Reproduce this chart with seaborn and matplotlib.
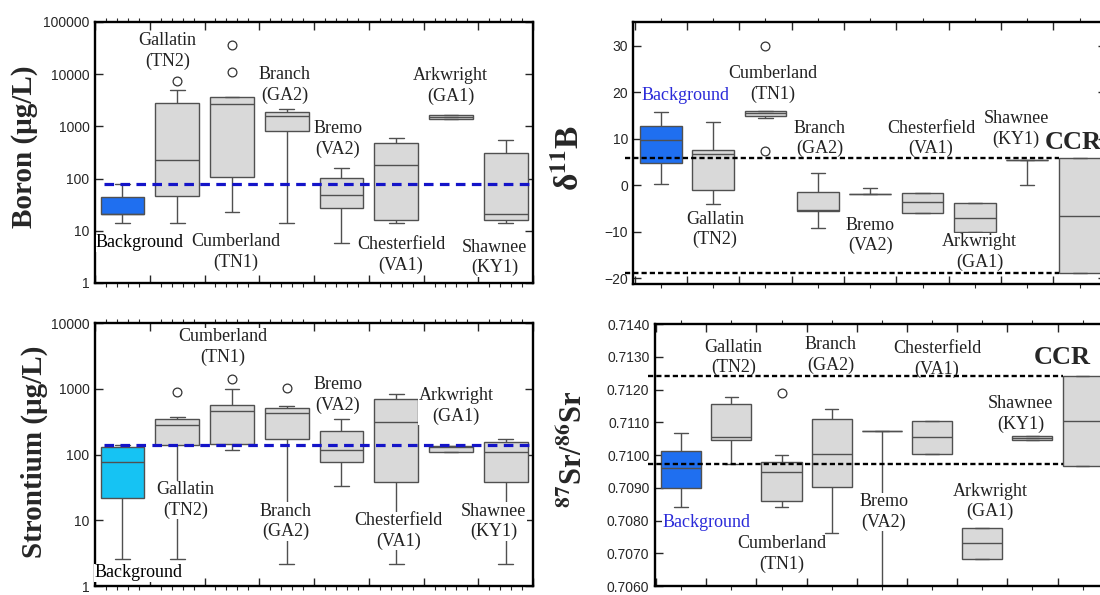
import numpy as np
import pandas as pd
import seaborn as sns
import matplotlib.pyplot as plt
import matplotlib.ticker as mtick

# sites, left panels have no CCR box
sites = ['Background', 'Gallatin', 'Cumberland', 'Branch', 'Bremo', 'Chesterfield', 'Arkwright', 'Shawnee']
sites_ccr = sites + ['CCR']
codes = ['', '(TN2)', '(TN1)', '(GA2)', '(VA2)', '(VA1)', '(GA1)', '(KY1)']

# boron, ug/L : whisker low, q1, median, q3, whisker high
b_lo = [14.3, 14.3, 22.9, 14.3, 5.9, 14.3, 1385, 14.3]
b_q1 = [20.6, 47, 106, 814, 26.9, 16, 1385, 16]
b_med = [20.6, 222, 2730, 1560, 48.5, 178, 1510, 20.6]
b_q3 = [44, 2800, 3720, 1910, 103, 471, 1650, 303]
b_hi = [80, 5070, 3720, 2120, 156, 597, 1650, 554]
b_out_site = ['Gallatin', 'Cumberland', 'Cumberland']
b_out_val = [7550, 35500, 10900]
b_background = 80

# delta 11B
d_lo = [0.2, -4.1, 14.5, -9.1, -1.9, -5.9, -10.0, 0.0, -18.8]
d_q1 = [4.7, -1.1, 15.0, -5.6, -1.9, -5.9, -10.0, 5.5, -18.8]
d_med = [9.7, 6.8, 15.5, -5.2, -1.9, -3.6, -7.0, 5.5, -6.6]
d_q3 = [12.8, 7.6, 15.9, -1.5, -1.9, -1.6, -3.9, 5.5, 5.8]
d_hi = [15.7, 13.6, 15.9, 2.6, -0.6, -1.6, -3.9, 5.5, 5.8]
d_out_site = ['Cumberland', 'Cumberland']
d_out_val = [30, 7.3]
d_ccr_range = [5.8, -18.8]

# strontium, ug/L
s_lo = [2.6, 2.6, 116, 2.2, 33, 2.2, 108, 2.2]
s_q1 = [22, 142, 147, 174, 76.6, 38, 108, 38]
s_med = [78, 277, 462, 421, 119, 315, 132, 110]
s_q3 = [128, 350, 576, 507, 230, 702, 137, 153]
s_hi = [138, 375, 1000, 538, 350, 835, 137, 175]
s_out_site = ['Gallatin', 'Cumberland', 'Branch']
s_out_val = [906, 1408, 1030]
s_background = 142

# 87Sr/86Sr
r_lo = [0.70840, 0.70973, 0.70841, 0.70763, 0.70500, 0.71004, 0.70682, 0.71046, 0.70965]
r_q1 = [0.70900, 0.71045, 0.70859, 0.70902, 0.71074, 0.71004, 0.70682, 0.71046, 0.70965]
r_med = [0.70961, 0.71055, 0.70948, 0.71004, 0.71074, 0.71055, 0.70730, 0.71052, 0.71104]
r_q3 = [0.71012, 0.71156, 0.70980, 0.71109, 0.71074, 0.71103, 0.70778, 0.71057, 0.71241]
r_hi = [0.71067, 0.71176, 0.71001, 0.71142, 0.71074, 0.71103, 0.70778, 0.71057, 0.71241]
r_out_site = ['Cumberland']
r_out_val = [0.71189]
r_ccr_range = [0.71240, 0.70972]

sns.set_style('ticks')
plt.rcParams['font.family'] = ['Liberation Sans', 'DejaVu Sans']
plt.rcParams['mathtext.fontset'] = 'stix'
SERIF = ['Liberation Serif', 'DejaVu Serif']
GRAY = '#d9d9d9'
EDGE = '#505050'
BLUE_TXT = '#2b2bd9'

fig = plt.figure(figsize=(11, 5.95), dpi=100)
ax_b = fig.add_axes([0.0864, 0.5244, 0.3982, 0.4387])
ax_d = fig.add_axes([0.5759, 0.5227, 0.4294, 0.4403])
ax_s = fig.add_axes([0.0864, 0.0151, 0.3982, 0.4420])
ax_r = fig.add_axes([0.5955, 0.0151, 0.4115, 0.4403])


def draw_boxes(ax, names, lo, q1, med, q3, hi, bg_color, log=False):
    rows = [(n, v) for i, n in enumerate(names) for v in (lo[i], q1[i], med[i], q3[i], hi[i])]
    df = pd.DataFrame(rows, columns=['site', 'value'])
    pal = {n: GRAY for n in names}
    pal['Background'] = bg_color
    sns.boxplot(data=df, x='site', y='value', hue='site', order=names, hue_order=names,
                palette=pal, saturation=1, width=0.8, whis=(0, 100), showfliers=False,
                linecolor=EDGE, linewidth=1.0, legend=False, log_scale=log, ax=ax)
    # whisker caps narrower than the box (medians span the full 0.8)
    for ln in ax.lines:
        xs = np.asarray(ln.get_xdata(), float)
        ys = np.asarray(ln.get_ydata(), float)
        if len(xs) == 2 and ys[0] == ys[1] and 0.05 < abs(xs[1] - xs[0]) < 0.7:
            mid = xs.mean()
            ln.set_xdata([mid - 0.135, mid + 0.135])


def draw_fliers(ax, names, out_site, out_val):
    pos = [names.index(s) for s in out_site]
    ax.scatter(pos, out_val, s=40, facecolors='white', edgecolors='#333333',
               linewidths=0.9, zorder=4)


def style_axes(ax, n_slots, xlim, minor):
    ax.set_xlim(*xlim)
    ax.set_xlabel('')
    ax.set_ylabel('')
    ax.xaxis.set_major_locator(mtick.FixedLocator(np.arange(-0.5, n_slots, 1.0)))
    ax.xaxis.set_minor_locator(mtick.FixedLocator(minor))
    ax.xaxis.set_major_formatter(mtick.NullFormatter())
    ax.tick_params(axis='x', which='major', direction='in', length=6, width=1, top=True, labelbottom=False)
    ax.tick_params(axis='x', which='minor', direction='out', length=3, width=0.8, top=True)
    ax.tick_params(axis='y', which='major', direction='in', length=6, width=1, right=True,
                   labelsize=10, pad=4)
    ax.yaxis.set_minor_locator(mtick.NullLocator())
    for sp in ax.spines.values():
        sp.set_linewidth(1.7)
        sp.set_color('black')


def site_labels(ax, names, xy, bg_color='black'):
    for i, name in enumerate(names):
        txt = name if not codes[i] else name + '\n' + codes[i]
        ax.text(xy[i][0], xy[i][1], txt, ha='center', va='center', fontsize=13,
                family=SERIF, linespacing=1.25, zorder=4,
                color=bg_color if name == 'Background' else '#222222',
                bbox=dict(facecolor='white', edgecolor='none', pad=0.3))


left_minor = [-0.5 + 0.2 * k for k in range(41) if k % 5]
right_minor = list(range(9))

# --- Boron
draw_boxes(ax_b, sites, b_lo, b_q1, b_med, b_q3, b_hi, '#1f6ff0', log=True)
draw_fliers(ax_b, sites, b_out_site, b_out_val)
ax_b.set_ylim(1, 100000)
ax_b.yaxis.set_major_locator(mtick.FixedLocator([1, 10, 100, 1000, 10000, 100000]))
ax_b.yaxis.set_major_formatter(mtick.FuncFormatter(lambda v, p: f'{v:.0f}'))
style_axes(ax_b, 8, (-0.5, 7.5), left_minor)
ax_b.hlines(b_background, -0.33, 7.5, colors='#1414c8', linestyles=(0, (3, 2)), linewidth=2.3, zorder=5)
site_labels(ax_b, sites, [(0.32, 5.9), (0.82, 27700), (2.07, 3.9), (2.96, 6150),
                          (3.93, 570), (5.09, 3.45), (5.99, 6000), (6.8, 3.1)])
ax_b.text(-0.162, 0.52, 'Boron (μg/L)', transform=ax_b.transAxes, rotation=90, ha='center',
          va='center', fontsize=21, fontweight='bold', family=SERIF)

# --- delta 11B
draw_boxes(ax_d, sites_ccr, d_lo, d_q1, d_med, d_q3, d_hi, '#1f6ff0')
draw_fliers(ax_d, sites_ccr, d_out_site, d_out_val)
ax_d.set_ylim(-21.2, 35.1)
ax_d.yaxis.set_major_locator(mtick.FixedLocator([-20, -10, 0, 10, 20, 30]))
style_axes(ax_d, 9, (-0.52, 8.5), right_minor)
ax_d.hlines(d_ccr_range, -0.68, 7.6, colors='black', linestyles=(0, (2.2, 1.3)), linewidth=1.7,
            zorder=5, clip_on=False)
site_labels(ax_d, sites, [(0.48, 19.3), (1.04, -9.5), (2.14, 21.8), (3.03, 10.1),
                          (4.0, -10.8), (5.16, 10.1), (6.09, -14.3), (6.79, 12.1)], BLUE_TXT)
ax_d.text(7.33, 9.1, 'CCR', ha='left', va='center', fontsize=19, fontweight='bold', family=SERIF, zorder=4)
ax_d.text(-0.134, 0.48, 'δ$^{\\mathbf{11}}$B', transform=ax_d.transAxes, rotation=90, ha='center',
          va='center', fontsize=24, fontweight='bold', family=SERIF)

# --- Strontium
draw_boxes(ax_s, sites, s_lo, s_q1, s_med, s_q3, s_hi, '#16c3f3', log=True)
draw_fliers(ax_s, sites, s_out_site, s_out_val)
ax_s.set_ylim(1, 10000)
ax_s.yaxis.set_major_locator(mtick.FixedLocator([1, 10, 100, 1000, 10000]))
ax_s.yaxis.set_major_formatter(mtick.FuncFormatter(lambda v, p: f'{v:.0f}'))
style_axes(ax_s, 8, (-0.5, 7.5), left_minor)
ax_s.hlines(s_background, -0.33, 7.5, colors='#1414c8', linestyles=(0, (3, 2)), linewidth=2.3, zorder=5)
site_labels(ax_s, sites, [(0.30, 1.59), (1.15, 20.2), (1.84, 4290), (2.98, 9.6),
                          (3.93, 807), (5.04, 6.9), (6.09, 544), (6.78, 9.6)])
ax_s.text(-0.139, 0.51, 'Strontium (μg/L)', transform=ax_s.transAxes, rotation=90, ha='center',
          va='center', fontsize=21, fontweight='bold', family=SERIF)

# --- 87Sr/86Sr
draw_boxes(ax_r, sites_ccr, r_lo, r_q1, r_med, r_q3, r_hi, '#1f6ff0')
draw_fliers(ax_r, sites_ccr, r_out_site, r_out_val)
ax_r.set_ylim(0.706, 0.714)
ax_r.yaxis.set_major_locator(mtick.MultipleLocator(0.001))
ax_r.yaxis.set_major_formatter(mtick.FuncFormatter(lambda v, p: f'{v:.4f}'))
style_axes(ax_r, 9, (-0.52, 8.5), right_minor)
ax_r.hlines(r_ccr_range, -0.66, 7.6, colors='black', linestyles=(0, (2.2, 1.3)), linewidth=1.7,
            zorder=5, clip_on=False)
site_labels(ax_r, sites, [(0.5, 0.70794), (1.04, 0.71298), (2.01, 0.70698), (2.98, 0.71305),
                          (4.04, 0.70826), (5.1, 0.71294), (6.16, 0.70858), (6.77, 0.71125)], BLUE_TXT)
ax_r.text(7.03, 0.71298, 'CCR', ha='left', va='center', fontsize=19, fontweight='bold', family=SERIF, zorder=4)
ax_r.text(-0.181, 0.52, '$^{\\mathbf{87}}$Sr/$^{\\mathbf{86}}$Sr', transform=ax_r.transAxes, rotation=90,
          ha='center', va='center', fontsize=22, fontweight='bold', family=SERIF)

plt.savefig('out.png', dpi=100)
